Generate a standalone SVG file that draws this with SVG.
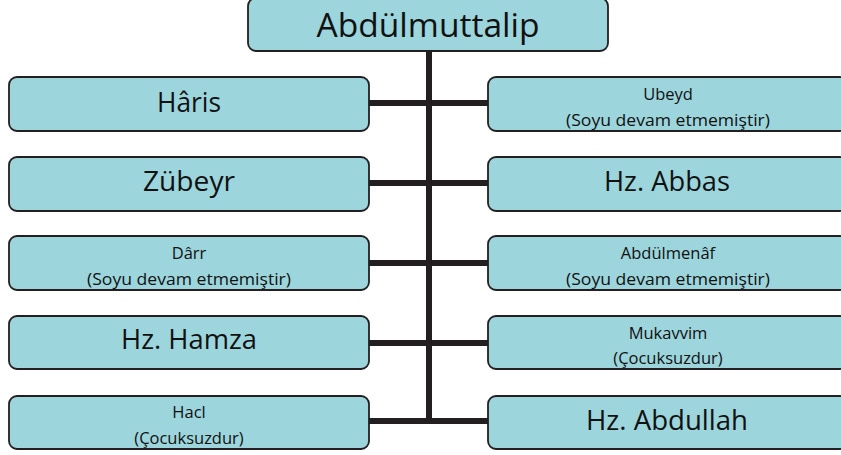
<svg xmlns="http://www.w3.org/2000/svg" width="841" height="455" viewBox="0 0 841 455">
<style>
.box{fill:#9cd5dc;stroke:#231f20;stroke-width:1.8}
.big{font-family:"Open Sans","Noto Sans",sans-serif;font-size:27px;fill:#111;text-anchor:middle}
.top{font-family:"Open Sans","Noto Sans",sans-serif;font-size:33px;fill:#111;text-anchor:middle}
.sm{font-family:"Open Sans","Noto Sans",sans-serif;font-size:16.5px;fill:#111;text-anchor:middle}
.con{stroke:#231f20;stroke-width:6;fill:none}
</style>
<rect width="841" height="455" fill="#ffffff"/>
<g id="connectors">
<line class="con" x1="429" y1="51" x2="429" y2="424"/>
<line class="con" x1="369" y1="103" x2="488" y2="103"/>
<line class="con" x1="369" y1="183" x2="488" y2="183"/>
<line class="con" x1="369" y1="263" x2="488" y2="263"/>
<line class="con" x1="369" y1="343" x2="488" y2="343"/>
<line class="con" x1="369" y1="421" x2="488" y2="421"/>
</g>
<g id="abdulmuttalip">
<rect class="box" x="248" y="-2" width="360" height="53" rx="8"/>
<text class="top" x="428" y="37" textLength="223" lengthAdjust="spacingAndGlyphs">Abdülmuttalip</text>
</g>
<g id="haris">
<rect class="box" x="9" y="77" width="360" height="54" rx="8"/>
<text class="big" x="189" y="112" textLength="64" lengthAdjust="spacingAndGlyphs">Hâris</text>
</g>
<g id="zubeyr">
<rect class="box" x="9" y="157" width="360" height="54" rx="8"/>
<text class="big" x="189" y="191" textLength="92" lengthAdjust="spacingAndGlyphs">Zübeyr</text>
</g>
<g id="darr">
<rect class="box" x="9" y="236" width="360" height="54" rx="8"/>
<text class="sm" x="189" y="259">Dârr</text>
<text class="sm" x="189" y="285" textLength="204" lengthAdjust="spacingAndGlyphs">(Soyu devam etmemiştir)</text>
</g>
<g id="hamza">
<rect class="box" x="9" y="316" width="360" height="53" rx="8"/>
<text class="big" x="189" y="349" textLength="136" lengthAdjust="spacingAndGlyphs">Hz. Hamza</text>
</g>
<g id="hacl">
<rect class="box" x="9" y="396" width="360" height="53" rx="8"/>
<text class="sm" x="189" y="418">Hacl</text>
<text class="sm" x="189" y="444">(Çocuksuzdur)</text>
</g>
<g id="ubeyd">
<rect class="box" x="488" y="77" width="360" height="54" rx="8"/>
<text class="sm" x="668" y="100">Ubeyd</text>
<text class="sm" x="668" y="126" textLength="204" lengthAdjust="spacingAndGlyphs">(Soyu devam etmemiştir)</text>
</g>
<g id="abbas">
<rect class="box" x="488" y="157" width="360" height="54" rx="8"/>
<text class="big" x="667" y="191" textLength="126" lengthAdjust="spacingAndGlyphs">Hz. Abbas</text>
</g>
<g id="abdulmenaf">
<rect class="box" x="488" y="236" width="360" height="54" rx="8"/>
<text class="sm" x="668" y="259">Abdülmenâf</text>
<text class="sm" x="668" y="285" textLength="204" lengthAdjust="spacingAndGlyphs">(Soyu devam etmemiştir)</text>
</g>
<g id="mukavvim">
<rect class="box" x="488" y="316" width="360" height="53" rx="8"/>
<text class="sm" x="668" y="339">Mukavvim</text>
<text class="sm" x="668" y="364">(Çocuksuzdur)</text>
</g>
<g id="abdullah">
<rect class="box" x="488" y="396" width="360" height="53" rx="8"/>
<text class="big" x="667" y="430" textLength="162" lengthAdjust="spacingAndGlyphs">Hz. Abdullah</text>
</g>
</svg>
